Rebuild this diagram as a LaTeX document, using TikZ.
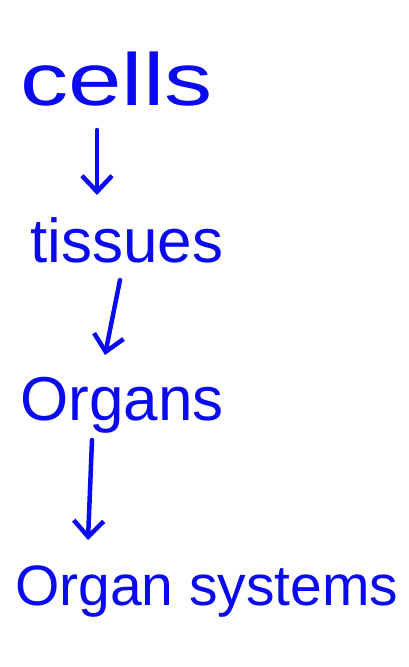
\documentclass[tikz,border=0pt]{standalone}
\usepackage{fontspec}
\setmainfont{Liberation Sans}
\usetikzlibrary{arrows.meta}
\definecolor{ink}{RGB}{10,10,240}
\begin{document}
\begin{tikzpicture}[x=1pt, y=-1pt,
  word/.style={ink, anchor=base west, inner sep=0pt, font=\fontsize{62}{70}\selectfont},
  link/.style={ink, line width=4.5pt, line cap=round, -{Straight Barb[length=16pt, width=30pt, line width=4.5pt]}}]
  \useasboundingbox (0,0) rectangle (409,667);
  % --- levels of organisation ---
  \node[word, font=\fontsize{74}{80}\selectfont, xscale=1.3] (cells) at (20,105) {cells};
  \node[word] (tissues) at (30,262) {tissues};
  \node[word] (organs) at (20,420) {Organs};
  \node[word, font=\fontsize{57}{66}\selectfont] (systems) at (15,605) {Organ systems};
  % --- arrows between levels ---
  \draw[link] ([shift={(77,25)}]cells.base west) -- ([shift={(67,-67)}]tissues.base west);
  \draw[link] ([shift={(90,18)}]tissues.base west) -- ([shift={(85,-65)}]organs.base west);
  \draw[link] ([shift={(72,20)}]organs.base west) -- ([shift={(73,-65)}]systems.base west);
\end{tikzpicture}
\end{document}
